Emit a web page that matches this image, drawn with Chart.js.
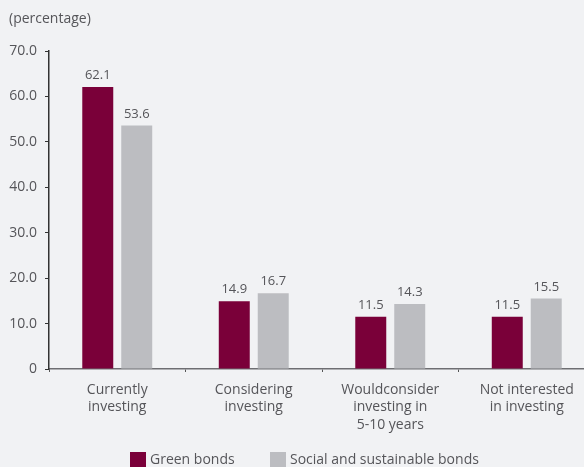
<!DOCTYPE html>
<html>
<head>
<meta charset="utf-8">
<script src="https://cdn.jsdelivr.net/npm/chart.js@4"></script>
<style>
  html, body { margin: 0; padding: 0; background: #f1f2f4; overflow: hidden; }
  #wrap { width: 584px; height: 467px; position: relative; overflow: hidden; }
</style>
</head>
<body>
<div id="wrap"><canvas id="chart" width="595" height="467"></canvas></div>
<script>
// survey answers, in percent
const categories = [
    ['Currently', 'investing'],
    ['Considering', 'investing'],
    ['Wouldconsider', 'investing in', '5-10 years'],
    ['Not interested', 'in investing']
];
const greenBonds = [62.1, 14.9, 11.5, 11.5];
const socialBonds = [53.6, 16.7, 14.3, 15.5];
const yTicks = [0, 10, 20, 30, 40, 50, 60, 70];

const FONT = '"Open Sans", "Noto Sans", sans-serif';
const TEXT = '#555559';
const MAROON = '#7a0039';
const GREY = '#bcbdc1';

// unit label, value labels and the legend strip
const extras = {
    id: 'extras',
    afterDatasetsDraw(chart) {
        const ctx = chart.ctx;
        ctx.save();
        ctx.fillStyle = TEXT;
        ctx.font = '14px ' + FONT;
        ctx.textAlign = 'left';
        ctx.textBaseline = 'middle';
        ctx.fillText('(percentage)', 9, 19);

        ctx.font = '13px ' + FONT;
        ctx.textAlign = 'center';
        ctx.textBaseline = 'alphabetic';
        chart.data.datasets.forEach((ds, i) => {
            chart.getDatasetMeta(i).data.forEach((bar, j) => {
                ctx.fillText(ds.data[j].toFixed(1), bar.x, bar.y - 8);
            });
        });

        const items = [{ x: 130 }, { x: 270 }];
        ctx.font = '14px ' + FONT;
        ctx.textAlign = 'left';
        ctx.textBaseline = 'middle';
        chart.data.datasets.forEach((ds, i) => {
            const x = items[i].x;
            ctx.fillStyle = ds.backgroundColor;
            ctx.fillRect(x, 452, 16, 16);
            ctx.fillStyle = TEXT;
            ctx.fillText(ds.label, x + 20, 460);
        });
        ctx.restore();
    }
};

new Chart(document.getElementById('chart'), {
    type: 'bar',
    data: {
        labels: categories,
        datasets: [
            { label: 'Green bonds', data: greenBonds, backgroundColor: MAROON },
            { label: 'Social and sustainable bonds', data: socialBonds, backgroundColor: GREY }
        ]
    },
    options: {
        responsive: false,
        animation: false,
        layout: { padding: { top: 51, left: 0, right: 0, bottom: 0 } },
        categoryPercentage: 0.571,
        barPercentage: 0.795,
        plugins: {
            legend: { display: false },
            tooltip: { enabled: false }
        },
        scales: {
            x: {
                afterFit: (scale) => { scale.height = 98; },
                grid: { offset: true, drawOnChartArea: false, tickLength: 3, color: '#555' },
                border: { color: '#6e6e72', width: 1.5 },
                ticks: { color: TEXT, padding: 9, font: { family: FONT, size: 14, lineHeight: 1.25 } }
            },
            y: {
                min: 0,
                max: 70,
                afterFit: (scale) => { scale.width = 49; },
                afterBuildTicks: (scale) => { scale.ticks = yTicks.map(v => ({ value: v })); },
                grid: { drawOnChartArea: false, tickLength: 4, color: '#333' },
                border: { color: '#333', width: 1.5 },
                ticks: {
                    color: TEXT,
                    padding: 8,
                    font: { family: FONT, size: 14 },
                    callback: (v) => v === 0 ? '0' : v.toFixed(1)
                }
            }
        }
    },
    plugins: [extras]
});
</script>
</body>
</html>
